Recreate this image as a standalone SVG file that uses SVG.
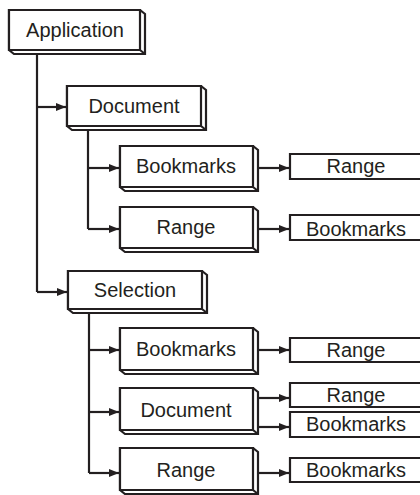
<svg xmlns="http://www.w3.org/2000/svg" width="420" height="495" viewBox="0 0 420 495">
<style>
.box{fill:#fff;stroke:#231f20;stroke-width:2.2;stroke-linejoin:miter}
.edge{fill:none;stroke:#231f20;stroke-width:2.2}
text{font-family:"Liberation Sans",Arial,sans-serif;font-size:20px;fill:#231f20;text-anchor:middle}
</style>
<defs>
<marker id="ah" markerUnits="userSpaceOnUse" markerWidth="11" markerHeight="9" refX="10" refY="4.5" orient="auto">
<path d="M0,0.5 L10,4.5 L0,8.5 Z" fill="#231f20"/>
</marker>
</defs>
<rect width="420" height="495" fill="#fff"/>

<g id="connectors">
<path class="edge" d="M37,54 V292"/>
<path class="edge" d="M37,107 H66" marker-end="url(#ah)"/>
<path class="edge" d="M37,292 H67" marker-end="url(#ah)"/>
<path class="edge" d="M88,130 V229"/>
<path class="edge" d="M88,168 H119" marker-end="url(#ah)"/>
<path class="edge" d="M88,229 H119" marker-end="url(#ah)"/>
<path class="edge" d="M89,313 V473"/>
<path class="edge" d="M89,350 H119" marker-end="url(#ah)"/>
<path class="edge" d="M89,412 H119" marker-end="url(#ah)"/>
<path class="edge" d="M89,473 H119" marker-end="url(#ah)"/>
<path class="edge" d="M257,168 H289" marker-end="url(#ah)"/>
<path class="edge" d="M257,229 H289" marker-end="url(#ah)"/>
<path class="edge" d="M257,350 H289" marker-end="url(#ah)"/>
<path class="edge" d="M257,398 H289" marker-end="url(#ah)"/>
<path class="edge" d="M257,427 H289" marker-end="url(#ah)"/>
<path class="edge" d="M257,473 H289" marker-end="url(#ah)"/>
</g>

<g id="application">
<path class="box" d="M9,10 H140 L145,14 V54 H14 L9,50 Z"/>
<path class="box" d="M9,10 H140 V50 H9 Z M140,50 L145,54"/>
<text x="75" y="37">Application</text>
</g>

<g id="document">
<path class="box" d="M67,86 H201 L206,90 V130 H72 L67,126 Z"/>
<path class="box" d="M67,86 H201 V126 H67 Z M201,126 L206,130"/>
<text x="134" y="113">Document</text>
</g>

<g id="doc-bookmarks">
<path class="box" d="M120,146 H253 L258,150 V191 H125 L120,187 Z"/>
<path class="box" d="M120,146 H253 V187 H120 Z M253,187 L258,191"/>
<text x="186" y="173">Bookmarks</text>
</g>

<g id="doc-bookmarks-range">
<path class="box" d="M290,154 H425 V179 H290 Z"/>
<text x="356" y="173">Range</text>
</g>

<g id="doc-range">
<path class="box" d="M120,207 H253 L258,211 V252 H125 L120,248 Z"/>
<path class="box" d="M120,207 H253 V248 H120 Z M253,248 L258,252"/>
<text x="186" y="234">Range</text>
</g>

<g id="doc-range-bookmarks">
<path class="box" d="M290,215 H425 V240 H290 Z"/>
<text x="356" y="236">Bookmarks</text>
</g>

<g id="selection">
<path class="box" d="M68,271 H202 L207,275 V313 H73 L68,309 Z"/>
<path class="box" d="M68,271 H202 V309 H68 Z M202,309 L207,313"/>
<text x="135" y="297">Selection</text>
</g>

<g id="sel-bookmarks">
<path class="box" d="M120,328 H253 L258,332 V374 H125 L120,370 Z"/>
<path class="box" d="M120,328 H253 V370 H120 Z M253,370 L258,374"/>
<text x="186" y="356">Bookmarks</text>
</g>

<g id="sel-bookmarks-range">
<path class="box" d="M290,338 H425 V362 H290 Z"/>
<text x="356" y="357">Range</text>
</g>

<g id="sel-document">
<path class="box" d="M120,388 H253 L258,392 V434 H125 L120,430 Z"/>
<path class="box" d="M120,388 H253 V430 H120 Z M253,430 L258,434"/>
<text x="186" y="417">Document</text>
</g>

<g id="sel-document-range">
<path class="box" d="M290,383 H425 V407 H290 Z"/>
<text x="356" y="402">Range</text>
</g>

<g id="sel-document-bookmarks">
<path class="box" d="M290,412 H425 V437 H290 Z"/>
<text x="356" y="431">Bookmarks</text>
</g>

<g id="sel-range">
<path class="box" d="M120,448 H253 L258,452 V494 H125 L120,490 Z"/>
<path class="box" d="M120,448 H253 V490 H120 Z M253,490 L258,494"/>
<text x="186" y="477">Range</text>
</g>

<g id="sel-range-bookmarks">
<path class="box" d="M290,458 H425 V482 H290 Z"/>
<text x="356" y="477">Bookmarks</text>
</g>
</svg>
